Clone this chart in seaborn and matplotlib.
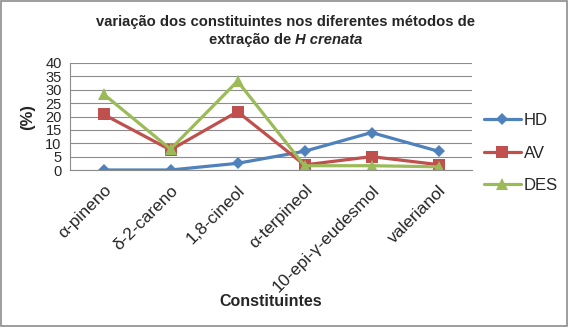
import matplotlib
matplotlib.use("Agg")
import matplotlib.pyplot as plt
import seaborn as sns
import pandas as pd
import numpy as np
from matplotlib.patches import Rectangle

categories = ["α-pineno", "δ-2-careno", "1,8-cineol", "α-terpineol", "10-epi-γ-eudesmol", "valerianol"]
hd = [0, 0, 2.5, 7, 14, 7]
av = [20.8, 7.5, 21.8, 1.9, 5, 2]
des = [28.4, 7.8, 33.2, 1.6, 1.6, 1.2]
series_names = ["HD", "AV", "DES"]
yticks = [0, 5, 10, 15, 20, 25, 30, 35, 40]

sns.set_style("white")
plt.rcParams['font.family'] = ['Liberation Sans', 'DejaVu Sans']

df = pd.DataFrame({
    "cat": categories * 3,
    "val": hd + av + des,
    "serie": [series_names[0]] * 6 + [series_names[1]] * 6 + [series_names[2]] * 6,
})

W, H = 571, 330
fig = plt.figure(figsize=(W / 100, H / 100), dpi=100)
ax = fig.add_axes([70/W, 1-170/H, (472-70)/W, (170-63)/H])

palette = {"HD": "#4F81BD", "AV": "#C0504D", "DES": "#9BBB59"}
markers = {"HD": "D", "AV": "s", "DES": "^"}
sizes = {"HD": 6, "AV": 8, "DES": 8}
for name in series_names:
    sub = df[df["serie"] == name]
    sns.lineplot(data=sub, x="cat", y="val", color=palette[name], marker=markers[name],
                 markersize=sizes[name], markeredgewidth=0, linewidth=2.3, ax=ax, label=name,
                 sort=False)

ax.set_xlim(-0.5, len(categories) - 0.5)
ax.set_ylim(0, 40)
ax.set_yticks(yticks)
ax.set_yticklabels([str(t) for t in yticks], fontsize=10.5)
ax.yaxis.grid(True, color="#8c8c8c", linewidth=0.8)
ax.set_axisbelow(True)
for s in ["top", "right"]:
    ax.spines[s].set_visible(False)
ax.spines["left"].set_color("#8c8c8c")
ax.spines["bottom"].set_color("#8c8c8c")
ax.tick_params(axis="y", length=4, color="#8c8c8c", pad=2)
ax.set_xticks(range(len(categories)))
ax.set_xticklabels(categories, rotation=45, ha="right", rotation_mode="anchor", fontsize=12.5)
ax.tick_params(axis="x", length=0, pad=9)
ax.set_xticks(np.arange(-0.5, len(categories), 1.0), minor=True)
ax.tick_params(axis="x", which="minor", length=4, color="#8c8c8c", direction="out")

ax.set_xlabel("Constituintes", fontsize=11.5, fontweight="bold")
ax.xaxis.set_label_coords(271/472 * 472/ (472-70) - 70/(472-70), -(301-170)/(170-63))
ax.xaxis.label.set_va("center")
ax.set_ylabel("(%)", fontsize=12, fontweight="bold")
ax.yaxis.set_label_coords(-(70-28)/(472-70), 0.5)
ax.yaxis.label.set_va("center")

ax.legend(loc="center left", bbox_to_anchor=(484/W, 1-153/H), bbox_transform=fig.transFigure,
          frameon=False, fontsize=12, handlelength=2.2, labelspacing=1.05, handletextpad=0.2,
          borderaxespad=0, borderpad=0)

fig.text(0.5, 1-22/H, "variação dos constituintes nos diferentes métodos de", ha="center",
         va="center", fontsize=10.6, fontweight="bold")
t1 = fig.text(0.5, 1-40/H, "extração de ", ha="right", va="center", fontsize=10.6, fontweight="bold")
fig.canvas.draw()
bb1 = t1.get_window_extent()
t2 = fig.text(0.5, 1-40/H, "H crenata", ha="left", va="center", fontsize=10.6,
              fontweight="bold", fontstyle="italic")
bb2 = t2.get_window_extent()
shift = (bb2.width - 0) / 2 / W
t1.set_x(0.5 - (bb2.width) / 2 / W + bb1.width / W * 0 + 0)
# center combined text
total = bb1.width + bb2.width
left = (W - total) / 2
t1.set_ha("left"); t1.set_x(left / W)
t2.set_x((left + bb1.width) / W)

fig.patches.append(Rectangle((0.5/W, 0.5/H + (330-326)/H), (567-0.5)/W, (326-1.5)/H, transform=fig.transFigure,
                             fill=False, edgecolor="#8c8c8c", linewidth=1.2))

fig.savefig("out.png", dpi=100)
